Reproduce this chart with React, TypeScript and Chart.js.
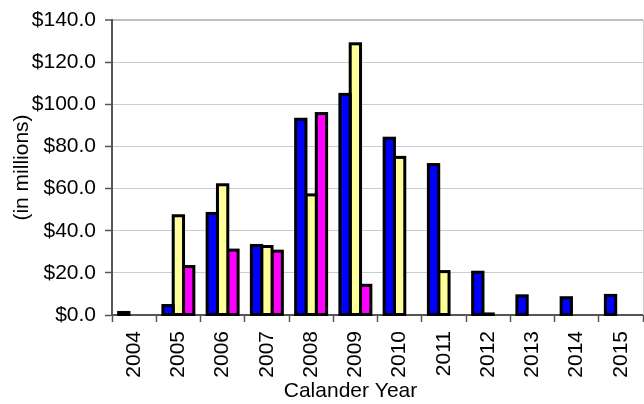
import React, { useEffect, useRef } from "react";
import { Chart, registerables } from "chart.js";

Chart.register(...registerables);

const years = ["2004", "2005", "2006", "2007", "2008", "2009", "2010", "2011", "2012", "2013", "2014", "2015"];
const seriesBlue = [1.2, 4.5, 48.2, 33.0, 92.9, 104.7, 83.9, 71.4, 20.3, 9.1, 8.2, 9.3];
const seriesYellow = [null, 47.1, 61.8, 32.5, 57.0, 128.7, 74.8, 20.6, 0.5, null, null, null];
const seriesMagenta = [null, 23.0, 30.8, 30.3, 95.6, 14.1, null, null, null, null, null, null];
const yMin = 0;
const yMax = 140;
const yStep = 20;
const yTitle = "(in millions)";
const xTitle = "Calander Year";

const FONT = "'Liberation Sans', Arial, sans-serif";

const frame = {
  id: "frame",
  afterDraw(chart: any) {
    const { ctx, chartArea } = chart;
    ctx.save();
    ctx.strokeStyle = "#d0d0d0";
    ctx.lineWidth = 1;
    ctx.beginPath();
    ctx.moveTo(chartArea.right + 0.5, chartArea.top);
    ctx.lineTo(chartArea.right + 0.5, chartArea.bottom);
    ctx.stroke();
    // x-axis title, centred as in the original (offset left of the plot centre)
    ctx.fillStyle = "#000000";
    ctx.font = "21px " + FONT;
    ctx.textAlign = "center";
    ctx.textBaseline = "middle";
    ctx.fillText(xTitle, chartArea.left + 238.5, chart.height - 12.6);
    ctx.restore();
  },
};

// Excel-like outline: a black stroke centred on each bar's edge
const barOutline = {
  id: "barOutline",
  afterDatasetDraw(chart: any, args: any) {
    const { ctx } = chart;
    const meta = args.meta;
    const data = chart.data.datasets[args.index].data;
    ctx.save();
    ctx.strokeStyle = "#000000";
    ctx.lineWidth = 3;
    ctx.lineJoin = "miter";
    meta.data.forEach((el: any, i: number) => {
      if (data[i] === null || data[i] === undefined) return;
      const p = el.getProps(["x", "y", "base", "width"], true);
      const left = p.x - p.width / 2;
      const top = Math.min(p.y, p.base);
      const h = Math.abs(p.base - p.y);
      ctx.strokeRect(left, top, p.width, h);
    });
    ctx.restore();
  },
};

export default function App() {
  const ref = useRef<HTMLCanvasElement>(null);
  useEffect(() => {
    const ds = (label: string, data: any[], color: string) => ({
      label,
      data,
      backgroundColor: color,
      borderWidth: 0,
      barPercentage: 1,
      categoryPercentage: 0.7,
    });
    const chart = new Chart(ref.current!, {
      type: "bar",
      data: {
        labels: years,
        datasets: [
          ds("Series 1", seriesBlue, "#0000ff"),
          ds("Series 2", seriesYellow, "#ffff99"),
          ds("Series 3", seriesMagenta, "#ff00ff"),
        ],
      },
      options: {
        animation: false,
        responsive: false,
        layout: { padding: { top: 20, right: 1, left: 0, bottom: 0 } },
        plugins: { legend: { display: false }, tooltip: { enabled: false } },
        scales: {
          x: {
            grid: {
              drawOnChartArea: false,
              drawTicks: true,
              tickLength: 7,
              tickColor: "#555555",
              tickWidth: 1.5,
            },
            border: { color: "#555555", width: 2 },
            ticks: {
              autoSkip: false,
              maxRotation: 90,
              minRotation: 90,
              padding: 9,
              color: "#000000",
              font: { family: FONT, size: 21 },
            },
            title: { display: false, text: xTitle },
            afterFit(scale: any) {
              scale.height = 89;
              scale.paddingLeft = 0;
              scale.paddingRight = 0;
            },
          },
          y: {
            min: yMin,
            max: yMax,
            grid: {
              color: (c: any) => (c.tick && c.tick.value === yMax ? "#c0c0c0" : c.tick && c.tick.value === 0 ? "rgba(0,0,0,0)" : "#cccccc"),
              lineWidth: (c: any) => (c.tick && c.tick.value === yMax ? 2 : 1),
              tickColor: "#555555",
              tickWidth: 1.5,
              tickLength: 7,
            },
            border: { color: "#555555", width: 2 },
            ticks: {
              stepSize: yStep,
              padding: 9,
              color: "#000000",
              font: { family: FONT, size: 21 },
              callback: (v: any) => "$" + Number(v).toFixed(1),
            },
            title: {
              display: true,
              text: yTitle,
              color: "#000000",
              font: { family: FONT, size: 21 },
              padding: { top: 10, bottom: 0 },
            },
            afterFit(scale: any) {
              scale.width = 112;
              scale.paddingTop = 0;
              scale.paddingBottom = 0;
            },
          },
        },
      },
      plugins: [frame, barOutline],
    });
    return () => chart.destroy();
  }, []);
  return (
    <div style={{ position: "fixed", left: 0, top: 0, width: 644, height: 404, background: "#ffffff" }}>
      <canvas ref={ref} width={644} height={404} style={{ display: "block" }} />
    </div>
  );
}
